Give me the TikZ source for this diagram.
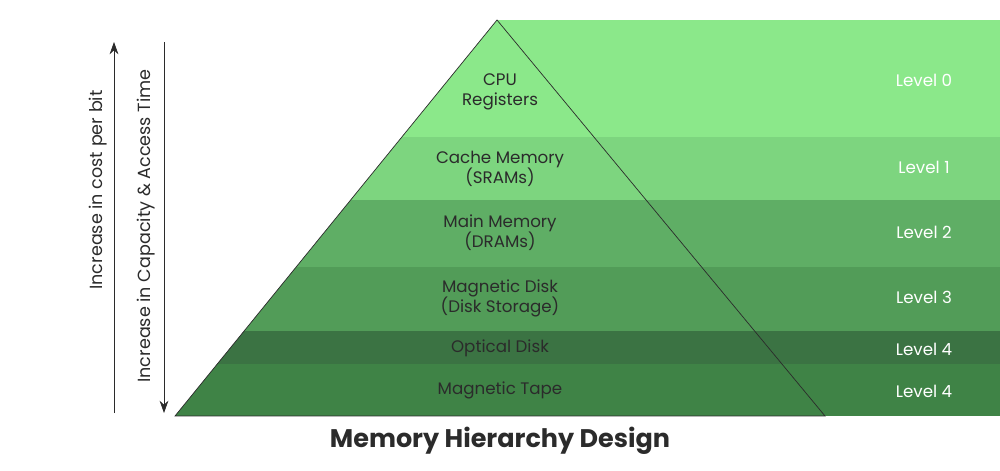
\documentclass[tikz,border=0pt]{standalone}
\usepackage{fontspec}
\setmainfont{Poppins}
\usetikzlibrary{arrows.meta}
\definecolor{lvlA}{HTML}{8BE88A}
\definecolor{lvlB}{HTML}{7DD57F}
\definecolor{lvlC}{HTML}{5FAE65}
\definecolor{lvlD}{HTML}{529C58}
\definecolor{lvlE}{HTML}{3B7343}
\definecolor{lvlF}{HTML}{3F8346}
\definecolor{txtdark}{HTML}{2B2B2B}
\tikzset{
    inner/.style={align=center, text=txtdark, font=\fontsize{9.5}{11.5}\selectfont},
    level/.style={text=white, font=\fontsize{9.5}{11.5}\selectfont},
    side/.style={rotate=90, text=txtdark, font=\fontsize{10}{12}\selectfont},
}
\begin{document}
\begin{tikzpicture}[x=0.02cm, y=-0.02cm]
    \useasboundingbox (0, 0) rectangle (1000, 470);
    \begin{scope}
        \clip (497, 20) -- (175, 416) -- (1000, 416) -- (1000, 20) -- cycle;
        \fill[lvlA] (0, 20) rectangle (1000, 137);
        \fill[lvlB] (0, 137) rectangle (1000, 200);
        \fill[lvlC] (0, 200) rectangle (1000, 267);
        \fill[lvlD] (0, 267) rectangle (1000, 331);
        \fill[lvlE] (0, 331) rectangle (1000, 364);
        \fill[lvlF] (0, 364) rectangle (1000, 416);
    \end{scope}
    \draw[txtdark, thin] (825, 416) -- (497, 20) -- (175, 416) -- cycle;

    \node[inner] (cpu) at (500, 92) {CPU\\Registers};
    \node[inner] (cache) at (500, 169) {Cache Memory\\(SRAMs)};
    \node[inner] (main) at (500, 233) {Main Memory\\(DRAMs)};
    \node[inner] (disk) at (500, 298) {Magnetic Disk\\(Disk Storage)};
    \node[inner] (optical) at (500, 348) {Optical Disk};
    \node[inner] (tape) at (500, 390) {Magnetic Tape};

    \node[level] (l0) at (924, 80) {Level 0};
    \node[level] (l1) at (924, 167) {Level 1};
    \node[level] (l2) at (924, 232) {Level 2};
    \node[level] (l3) at (924, 297) {Level 3};
    \node[level] (l4) at (924, 349) {Level 4};
    \node[level] (l5) at (924, 391) {Level 4};

    \coordinate (costlow) at (114, 413);
    \coordinate (costhigh) at (114, 42);
    \coordinate (caplow) at (164, 42);
    \coordinate (caphigh) at (164, 413);
    \draw[txtdark, -{Stealth[length=7pt, width=5pt]}] (costlow) -- (costhigh);
    \draw[txtdark, -{Stealth[length=7pt, width=5pt]}] (caplow) -- (caphigh);
    \node[side] (cost) at (98, 190) {Increase in cost per bit};
    \node[side] (cap) at (146, 226) {Increase in Capacity \& Access Time};

    \node[text=txtdark, font=\fontsize{14.5}{17}\selectfont\bfseries] (title) at (500, 441) {Memory Hierarchy Design};
\end{tikzpicture}
\end{document}
